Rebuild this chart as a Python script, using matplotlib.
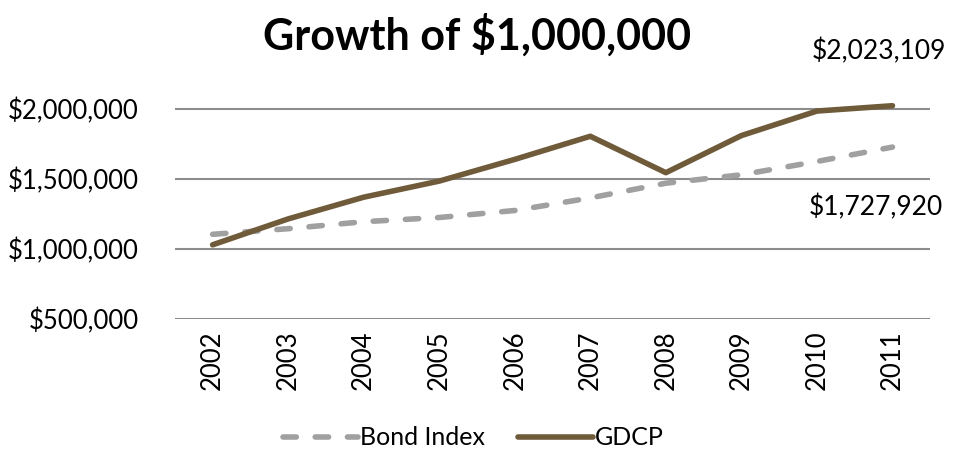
import matplotlib.pyplot as plt
from matplotlib.ticker import FuncFormatter

plt.rcParams['font.family'] = ['Lato', 'DejaVu Sans']

years = ['2002', '2003', '2004', '2005', '2006', '2007', '2008', '2009', '2010', '2011']
bond_index = [1105000, 1145000, 1195000, 1225000, 1275000, 1365000, 1470000, 1530000, 1625000, 1727920]
gdcp = [1030000, 1215000, 1370000, 1485000, 1640000, 1805000, 1545000, 1810000, 1985000, 2023109]
y_ticks = [500000, 1000000, 1500000, 2000000]

brown = '#6f5a3a'
grey = '#a0a0a0'

fig = plt.figure(figsize=(9.66, 4.5), dpi=100)
ax = fig.add_axes([0.181, 0.291, 0.782, 0.498])

x = list(range(len(years)))
ax.plot(x, bond_index, color=grey, lw=4, dashes=(2.4, 3.4), dash_capstyle='round',
        solid_capstyle='round', label='Bond Index', zorder=3)
ax.plot(x, gdcp, color=brown, lw=4, solid_capstyle='round', label='GDCP', zorder=4)

ax.set_xlim(-0.5, len(years) - 0.5)
ax.set_ylim(500000, 2100000)
ax.set_yticks(y_ticks)
ax.yaxis.set_major_formatter(FuncFormatter(lambda v, p: '${:,.0f}'.format(v)))
ax.set_xticks(x)
ax.set_xticklabels(years, rotation=90)
ax.tick_params(length=0, labelsize=18.5, colors='black', pad=8)
ax.tick_params(axis='y', pad=26)
ax.grid(axis='y', color='#8c8c8c', lw=1.5)
for s in ax.spines.values():
    s.set_visible(False)

ax.annotate('${:,.0f}'.format(gdcp[-1]), (x[-1], gdcp[-1]), xytext=(-10, 30),
            textcoords='offset points', ha='center', va='bottom', fontsize=19,
            annotation_clip=False)
ax.annotate('${:,.0f}'.format(bond_index[-1]), (x[-1], bond_index[-1]), xytext=(-12, -34),
            textcoords='offset points', ha='center', va='top', fontsize=19,
            annotation_clip=False)

fig.text(0.494, 0.922, 'Growth of $1,000,000', ha='center', va='center',
         fontsize=31, fontweight='bold')

fig.legend(loc='center', bbox_to_anchor=(0.49, 0.027), ncol=2, frameon=False,
           fontsize=18, handlelength=3.0, handletextpad=0.1, columnspacing=1.3)

fig.savefig('out.png', dpi=100)
